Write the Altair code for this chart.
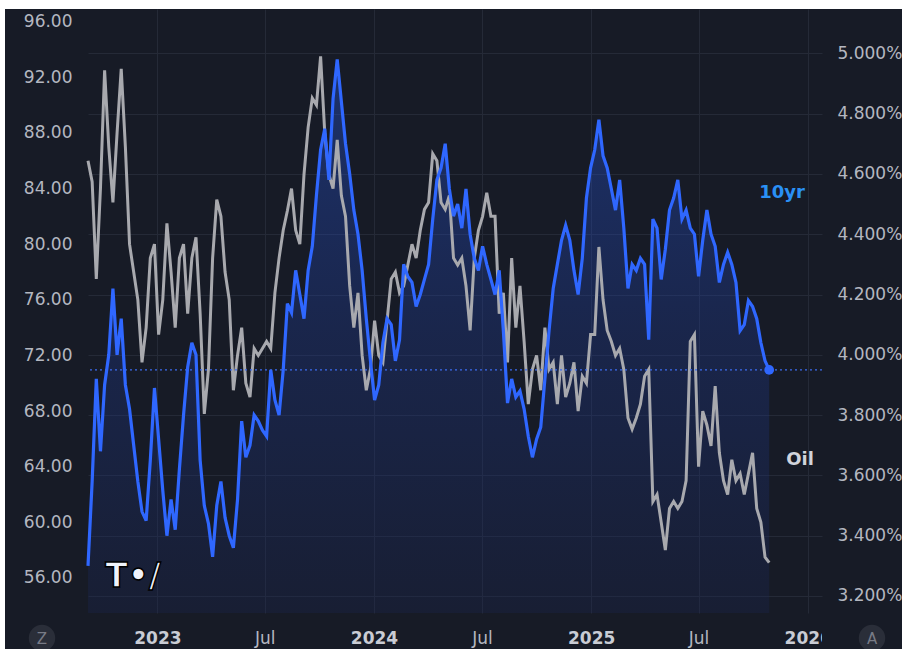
import altair as alt
import pandas as pd

# ---------------- data (weekly samples) ----------------
START = "2022-09-06"

oil = [
    86, 84.5, 77.5, 84, 92.5, 87, 83, 88, 92.6, 87,
    80, 78, 76, 71.5, 74, 79, 80, 73.5, 76, 81.5,
    78, 74, 79, 80, 75, 79, 80.5, 75, 67.8, 71,
    79, 83.2, 82, 78, 76, 69.5, 72, 74, 70, 69,
    72.5, 72, 72.5, 73, 72.5, 76.5, 79, 81, 82.4, 84,
    81, 80, 85, 88.4, 90.5, 90, 93.5, 88, 85, 84,
    87.5, 83.5, 82, 77, 74, 76.5, 72, 69.5, 71, 74.5,
    72, 71.5, 74.5, 77.5, 78, 76.5, 77, 78.5, 80, 79,
    81, 82.5, 83, 86.5, 86, 83, 82.5, 83.5, 79, 78.5,
    79, 77, 73.8, 79, 81, 82, 83.7, 82, 82, 75,
    76.5, 71.5, 79, 74, 77, 73, 68.5, 71, 72, 69.5,
    74, 71, 71.5, 68.5, 72, 69, 70, 71.5, 68, 70.5,
    70, 73.5, 73.5, 79.8, 76, 73.8, 73, 72, 72.5, 71,
    67.5, 66.7, 67.5, 68.5, 70.5, 71, 61.5, 62, 60, 58,
    61, 61.5, 61, 61.5, 63, 73, 73.5, 64, 68, 67,
    65.5, 69.8, 65, 63, 62, 64.5, 63, 63.5, 62, 63.5,
    65, 61, 60, 57.5, 57.1,
]

teng = [
    3.30, 3.58, 3.92, 3.68, 3.90, 4.00, 4.22, 4.00, 4.12, 3.90,
    3.82, 3.70, 3.58, 3.48, 3.45, 3.65, 3.89, 3.72, 3.55, 3.40,
    3.52, 3.42, 3.62, 3.80, 3.96, 4.04, 4.00, 3.65, 3.50, 3.44,
    3.33, 3.50, 3.58, 3.46, 3.40, 3.36, 3.52, 3.78, 3.66, 3.70,
    3.80, 3.78, 3.75, 3.73, 3.95, 3.85, 3.80, 3.95, 4.17, 4.14,
    4.28, 4.20, 4.12, 4.28, 4.36, 4.53, 4.68, 4.75, 4.58, 4.85,
    4.98, 4.84, 4.70, 4.60, 4.48, 4.40, 4.28, 4.12, 3.98, 3.85,
    3.90, 4.04, 4.12, 4.10, 3.98, 4.05, 4.30, 4.26, 4.24, 4.16,
    4.20, 4.25, 4.30, 4.45, 4.58, 4.62, 4.70, 4.55, 4.46, 4.50,
    4.42, 4.55, 4.40, 4.32, 4.28, 4.36, 4.30, 4.25, 4.20, 4.28,
    4.08, 3.84, 3.92, 3.86, 3.88, 3.82, 3.73, 3.66, 3.72, 3.76,
    3.92, 4.08, 4.22, 4.30, 4.38, 4.43, 4.38, 4.28, 4.20, 4.32,
    4.52, 4.62, 4.68, 4.78, 4.66, 4.62, 4.55, 4.48, 4.58, 4.42,
    4.22, 4.30, 4.28, 4.32, 4.30, 4.05, 4.45, 4.42, 4.25, 4.35,
    4.48, 4.52, 4.58, 4.45, 4.48, 4.42, 4.40, 4.26, 4.38, 4.48,
    4.40, 4.36, 4.24, 4.30, 4.34, 4.30, 4.24, 4.08, 4.10, 4.18,
    4.16, 4.12, 4.04, 3.98, 3.95,
]

oil_ticks = [56, 60, 64, 68, 72, 76, 80, 84, 88, 92, 96]
teng_ticks = [3.2, 3.4, 3.6, 3.8, 4.0, 4.2, 4.4, 4.6, 4.8, 5.0]
x_ticks = [(2023, 1), (2023, 7), (2024, 1), (2024, 7), (2025, 1), (2025, 7), (2026, 1)]
TENG_MIN, TENG_MAX = 3.1436, 5.147
OIL_MIN, OIL_MAX = 53.48, 96.91

dates = pd.date_range(START, periods=len(oil), freq="7D").strftime("%Y-%m-%d")
df = pd.DataFrame({"date": dates, "oil": oil, "teng": teng})
last = df.iloc[[-1]]

# ---------------- styling ----------------
BG = "#171b26"
GRID = "#252a37"
LABEL = "#b4b7c0"
BLUE = "#2f67ff"
GRAY = "#a8a9ae"
FONT = "DejaVu Sans"
W, H = 734, 604
PAD = {"left": 88, "top": 9, "right": 80, "bottom": 36}

x_scale = alt.Scale(
    type="utc",
    domain=[alt.DateTime(year=2022, month=9, date=6, utc=True),
            alt.DateTime(year=2026, month=1, date=25, utc=True)],
)
x_axis = alt.Axis(
    values=[alt.DateTime(year=y, month=m, date=1, utc=True) for y, m in x_ticks],
    labelExpr="utcFormat(datum.value, '%m') == '01' ? utcFormat(datum.value, '%Y') : utcFormat(datum.value, '%b')",
    labelFontWeight={"condition": {"test": "utcmonth(datum.value) == 0", "value": "bold"}, "value": "normal"},
    labelColor={"condition": {"test": "utcmonth(datum.value) == 0", "value": "#c9ccd4"}, "value": LABEL},
    labelFont=FONT, labelFontSize=17, labelPadding=17, labelFlush=False, labelOverlap=False,
    grid=True, gridColor=GRID, gridWidth=1, domain=False, ticks=False,
)
x_enc = alt.X("date:T", scale=x_scale, axis=x_axis, title=None)

teng_scale = alt.Scale(domain=[TENG_MIN, TENG_MAX], zero=False, nice=False)
oil_scale = alt.Scale(domain=[OIL_MIN, OIL_MAX], zero=False, nice=False)

teng_axis = alt.Axis(
    orient="right", values=teng_ticks,
    labelExpr="format(datum.value, '.3f') + '%'",
    labelFont=FONT, labelFontSize=17, labelColor=LABEL, labelPadding=15,
    grid=True, gridColor=GRID, gridWidth=1, domain=False, ticks=False, labelOverlap=False,
)
oil_axis = alt.Axis(
    orient="left", values=oil_ticks, format=".2f",
    labelFont=FONT, labelFontSize=17, labelColor=LABEL, labelPadding=16,
    grid=False, domain=False, ticks=False, labelOverlap=False,
)

base = alt.Chart(df)

teng_area = base.mark_area(
    color=alt.Gradient(
        gradient="linear",
        stops=[alt.GradientStop(color="#2962ff", offset=0),
               alt.GradientStop(color="#1f3c99", offset=0.5),
               alt.GradientStop(color="#1a2550", offset=1)],
        x1=0, x2=0, y1=0, y2=1,
    ),
    fillOpacity=0.32,
).encode(
    x=x_enc,
    y=alt.Y("teng:Q", scale=teng_scale, axis=teng_axis, title=None),
    y2=alt.datum(TENG_MIN),
)

oil_line = base.mark_line(color=GRAY, strokeWidth=3).encode(
    x=x_enc, y=alt.Y("oil:Q", scale=oil_scale, axis=oil_axis, title=None)
)

teng_y = alt.Y("teng:Q", scale=teng_scale, axis=None, title=None)
teng_line = base.mark_line(color=BLUE, strokeWidth=3.2).encode(x=x_enc, y=teng_y)
teng_rule = alt.Chart(last).mark_rule(color="#3d6cf0", strokeDash=[2, 3], strokeWidth=1.4, opacity=1).encode(y=teng_y)
teng_dot = alt.Chart(last).mark_circle(color=BLUE, size=95, opacity=1).encode(x=x_enc, y=teng_y)
teng_top = alt.layer(teng_line, teng_rule, teng_dot)

one = alt.Data(values=[{"k": 1}])


def rect(x, x2, y, y2, color):
    return alt.Chart(one).mark_rect(color=color).encode(
        x=alt.value(x), x2=alt.value(x2), y=alt.value(y), y2=alt.value(y2)
    )


def text(t, x, y, **kw):
    return alt.Chart(one).mark_text(text=t, font=FONT, **kw).encode(x=alt.value(x), y=alt.value(y))


def dot(x, y):
    return alt.Chart(one).mark_circle(size=700, color="#2a2e39", opacity=1).encode(x=alt.value(x), y=alt.value(y))


decor = [
    rect(-88, 814, -9, 0, "#ffffff"),
    rect(-88, -83, -9, 640, "#ffffff"),
    rect(734, 814, 605, 640, BG),
    dot(-46, 629), text("Z", -46, 630, fontSize=15, color="#787b86"),
    dot(784, 629), text("A", 784, 630, fontSize=15, color="#787b86"),
    text("10yr", 694, 184, fontSize=18, fontWeight="bold", color="#2a90f5"),
    text("Oil", 712, 451, fontSize=18, fontWeight="bold", color="#d1d4dc"),
    text("T•/", 45, 568, fontSize=33, fontWeight="bold", color="#f0f3fa", stroke="#000000", strokeWidth=1.5),
]

chart = alt.layer(teng_area, oil_line, teng_top, *decor).resolve_scale(y="independent").properties(
    width=W, height=H, padding=PAD, autosize=alt.AutoSizeParams(type="none"), background=BG
).configure_view(stroke=None)

chart.save("out.html", embed_options={"renderer": "svg", "actions": False})
